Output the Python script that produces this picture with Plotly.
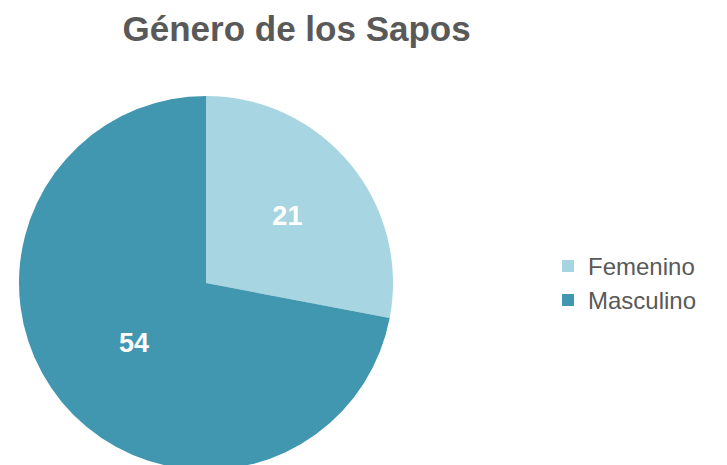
import plotly.graph_objects as go

labels = ["Femenino", "Masculino"]
counts = [21, 54]
colors = ["#A7D5E1", "#4197AF"]

fig = go.Figure(
    go.Pie(
        labels=labels,
        values=counts,
        sort=False,
        direction="clockwise",
        rotation=0,
        marker=dict(colors=colors, line=dict(width=0)),
        textinfo="value",
        textposition="inside",
        insidetextorientation="horizontal",
        textfont=dict(family="Liberation Sans", size=27, color="white", weight="bold"),
        domain=dict(x=[0.0151, 0.5296], y=[0.0065, 0.8108]),
        hoverinfo="label+value",
    )
)

fig.update_layout(
    width=727,
    height=465,
    margin=dict(l=0, r=0, t=0, b=0),
    paper_bgcolor="white",
    plot_bgcolor="white",
    title=dict(
        text="<b>Género de los Sapos</b>",
        x=0.397,
        xanchor="center",
        y=0.955,
        yanchor="middle",
        font=dict(family="Liberation Sans", size=35, color="#595959"),
    ),
    legend=dict(
        x=0.7428,
        xanchor="left",
        y=0.408,
        yanchor="middle",
        font=dict(family="Liberation Sans", size=24, color="#595959"),
        tracegroupgap=0,
    ),
    showlegend=True,
)

fig.write_html("out.html")
